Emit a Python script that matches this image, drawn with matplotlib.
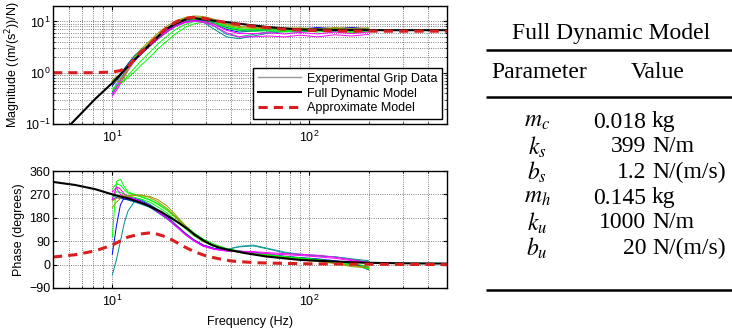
import numpy as np
import matplotlib
matplotlib.use('Agg')
import matplotlib.pyplot as plt
from matplotlib.ticker import LogLocator, NullFormatter

# ---- model curves ----
full_mag_f = [6.17, 8.2, 10, 12.3, 14.7, 16.5, 18.6, 21, 23.5, 25.5, 28, 33, 41, 50, 61, 75, 90, 150, 250, 500]
full_mag = [0.1, 0.31, 0.63, 1.46, 2.85, 4.5, 6.96, 9.1, 10.9, 11.7, 11.2, 10.3, 9.35, 8.5, 7.8, 7.3, 6.96, 6.8, 6.75, 6.75]

approx_mag_f = [5, 8, 10, 11, 12, 13, 14, 15.5, 17, 19, 21, 23, 25, 27, 30, 35, 42, 50, 60, 72, 90, 115, 150, 250, 500]
approx_mag = [1.0, 1.0, 1.03, 1.1, 1.3, 1.85, 2.5, 3.6, 5.2, 7.6, 9.7, 11.2, 11.9, 11.9, 11.3, 10.0, 8.9, 8.2, 7.6, 7.1, 6.8, 6.6, 6.5, 6.45, 6.45]

full_ph_f = [5, 6.5, 8.2, 10, 12.1, 14.7, 17.7, 21.3, 24, 26.3, 29, 31.9, 35, 38.8, 47.3, 60.7, 90, 133, 195, 300, 500]
full_ph = [318, 306, 290, 270, 254, 232, 203, 165, 138, 114, 93, 76, 65, 57, 44, 31, 18, 12, 7, 5, 4]

approx_ph_f = [5, 6.5, 8.2, 10, 12, 14, 15.9, 18, 20, 23, 26, 30, 35, 40, 47, 55, 70, 100, 150, 250, 500]
approx_ph = [29, 38, 53, 75, 106, 118, 123, 111, 96, 70, 50, 33, 22, 14, 10, 7, 5, 3, 2, 1, 0]

phase_ticks = [-90, 0, 90, 180, 270, 360]
phase_ticklabels = ['\u221290', '0', '90', '180', '270', '360']

exp_f = [10, 10.5, 11, 11.5, 12, 13, 14, 15.5, 17, 19, 21, 23.5, 26, 29, 33, 38, 44, 52, 62, 75, 90, 110, 135, 165, 200]

exp_colors = ['#008b8b', '#1a9a9a', '#0000ff', '#0000ff', '#00ff00', '#00ff00', '#00ff00',
              '#ff00ff', '#ff00ff', '#999900', '#999900']

exp_mag = [
    [0.38, 0.5, 0.75, 1.0, 1.35, 2.0, 2.5, 3.4, 4.6, 6.3, 8.3, 10.0, 10.6, 9.6, 7.0, 5.0, 4.6, 5.2, 5.9, 6.3, 6.2, 6.6, 6.4, 6.7, 6.5],
    [0.42, 0.6, 0.85, 1.15, 1.5, 2.2, 2.8, 3.6, 4.9, 6.8, 8.8, 10.4, 10.9, 10.2, 8.0, 5.6, 5.0, 5.6, 6.3, 6.6, 6.5, 6.9, 6.6, 7.0, 6.8],
    [0.55, 0.7, 0.9, 1.1, 1.35, 1.9, 2.4, 3.3, 4.5, 6.4, 8.2, 9.8, 10.5, 10.3, 9.0, 7.0, 6.2, 6.5, 6.8, 7.1, 7.0, 7.4, 7.1, 7.5, 7.2],
    [0.6, 0.75, 0.95, 1.2, 1.45, 2.1, 2.7, 3.7, 5.0, 6.9, 8.7, 10.3, 10.8, 10.5, 9.4, 7.6, 6.7, 6.8, 7.0, 7.3, 7.1, 7.6, 7.2, 7.6, 7.0],
    [0.5, 0.55, 0.62, 0.7, 0.8, 1.05, 1.4, 2.0, 2.9, 4.2, 5.8, 7.7, 9.0, 9.6, 9.2, 8.0, 7.0, 6.8, 6.9, 6.7, 6.9, 6.5, 7.0, 6.3, 6.9],
    [0.45, 0.52, 0.6, 0.72, 0.88, 1.25, 1.7, 2.5, 3.6, 5.2, 7.0, 8.8, 9.9, 10.0, 9.1, 7.4, 6.6, 6.4, 6.6, 6.3, 6.7, 6.2, 6.8, 6.0, 6.6],
    [0.65, 0.8, 0.95, 1.15, 1.4, 2.0, 2.6, 3.5, 4.8, 6.6, 8.5, 10.2, 10.9, 10.7, 9.8, 8.2, 7.2, 7.0, 7.2, 6.9, 7.3, 6.8, 7.3, 6.6, 7.1],
    [0.35, 0.45, 0.62, 0.85, 1.1, 1.7, 2.3, 3.3, 4.6, 6.3, 8.0, 9.5, 10.0, 9.6, 8.2, 6.0, 5.0, 5.0, 5.2, 5.0, 5.4, 5.0, 5.5, 5.2, 5.6],
    [0.4, 0.52, 0.7, 0.95, 1.2, 1.85, 2.5, 3.5, 4.9, 6.7, 8.5, 10.0, 10.4, 10.0, 8.8, 6.7, 5.8, 5.8, 6.0, 5.7, 6.1, 5.7, 6.2, 5.8, 6.2],
    [0.7, 0.85, 0.75, 0.9, 1.3, 2.1, 2.9, 4.2, 5.9, 8.2, 10.3, 12.0, 12.8, 12.5, 11.0, 9.0, 8.0, 7.6, 7.6, 7.4, 7.5, 7.2, 7.6, 7.3, 7.5],
    [0.6, 0.7, 0.65, 0.8, 1.1, 1.8, 2.6, 3.9, 5.5, 7.6, 9.8, 11.5, 12.3, 12.0, 10.5, 8.6, 7.6, 7.3, 7.3, 7.0, 7.2, 6.9, 7.3, 7.0, 7.2],
]

exp_ph = [
    [-40, 20, 90, 160, 205, 245, 250, 232, 212, 185, 155, 120, 95, 75, 62, 58, 68, 72, 60, 45, 38, 33, 30, 22, 15],
    [260, 265, 258, 252, 248, 240, 232, 220, 200, 175, 148, 115, 92, 72, 60, 58, 70, 75, 62, 48, 40, 35, 30, 20, 10],
    [40, 150, 230, 258, 262, 255, 245, 228, 208, 180, 150, 118, 93, 72, 60, 53, 50, 48, 40, 32, 27, 22, 15, 5, -20],
    [250, 258, 255, 252, 250, 244, 236, 222, 203, 178, 150, 120, 95, 75, 62, 55, 52, 46, 38, 30, 26, 20, 12, 2, -10],
    [105, 320, 328, 300, 280, 270, 262, 250, 235, 212, 185, 150, 122, 98, 78, 62, 52, 44, 38, 30, 24, 18, 10, 0, -18],
    [290, 312, 305, 288, 275, 268, 260, 248, 232, 208, 180, 145, 115, 92, 72, 58, 50, 44, 36, 28, 22, 16, 8, -2, -15],
    [265, 280, 278, 270, 264, 258, 252, 240, 222, 198, 170, 138, 110, 88, 70, 57, 50, 45, 38, 31, 26, 20, 12, 5, -8],
    [250, 300, 290, 272, 262, 252, 242, 226, 205, 178, 148, 115, 90, 70, 58, 52, 52, 50, 46, 42, 40, 36, 28, 18, 8],
    [280, 295, 270, 262, 258, 250, 240, 224, 204, 178, 150, 118, 93, 73, 60, 53, 50, 46, 42, 38, 35, 30, 24, 15, 5],
    [220, 240, 255, 262, 265, 268, 265, 262, 250, 225, 190, 150, 118, 92, 72, 58, 48, 40, 32, 24, 18, 12, 4, -8, -12],
    [245, 255, 262, 265, 262, 266, 268, 258, 242, 215, 182, 145, 112, 88, 70, 56, 47, 40, 33, 26, 20, 14, 6, -4, -10],
]

# ---- table contents ----
table_title = 'Full Dynamic Model'
table_header = ['Parameter', 'Value']
param_names = ['$m_c$', '$k_s$', '$b_s$', '$m_h$', '$k_u$', '$b_u$']
param_values = ['0.018', '399', '1.2', '0.145', '1000', '20']
param_units = ['kg', 'N/m', 'N/(m/s)', 'kg', 'N/m', 'N/(m/s)']


def main():
    plt.rcParams.update({
        'font.family': ['Liberation Sans', 'DejaVu Sans'],
        'font.size': 9,
        'axes.linewidth': 1.0,
        'xtick.direction': 'in',
        'ytick.direction': 'in',
        'xtick.top': True,
        'ytick.right': True,
        'xtick.major.size': 3,
        'ytick.major.size': 3,
        'xtick.minor.size': 1.6,
        'ytick.minor.size': 1.6,
        'xtick.major.pad': 4,
        'ytick.major.pad': 2,
    })

    W, H = 732, 331
    fig = plt.figure(figsize=(W / 100, H / 100), dpi=100)

    def px_axes(x0, y0, x1, y1):
        return fig.add_axes([x0 / W, 1 - y1 / H, (x1 - x0) / W, (y1 - y0) / H])

    ax1 = px_axes(53, 6, 447, 124)
    ax2 = px_axes(53, 171, 447, 288)

    grid_kw = dict(color='#555555', linestyle=':', linewidth=0.6)
    red = '#d81e1e'

    # magnitude
    for vals, c in zip(exp_mag, exp_colors):
        ax1.plot(exp_f, vals, color=c, linewidth=0.7)
    ax1.plot([], [], color='#999999', linewidth=1.0, label='Experimental Grip Data')
    ax1.plot(full_mag_f, full_mag, color='black', linewidth=1.5, label='Full Dynamic Model')
    ax1.plot(approx_mag_f, approx_mag, color=red, linewidth=2.2, dashes=(3.0, 2.0),
             label='Approximate Model')
    ax1.set_xscale('log')
    ax1.set_yscale('log')
    ax1.set_xlim(5, 500)
    ax1.set_ylim(0.1, 20)
    ax1.yaxis.set_major_locator(LogLocator(base=10, numticks=10))
    ax1.yaxis.set_minor_locator(LogLocator(base=10, subs=np.arange(2, 10), numticks=10))
    ax1.yaxis.set_minor_formatter(NullFormatter())
    ax1.xaxis.set_minor_formatter(NullFormatter())
    ax1.grid(True, which='both', **grid_kw)
    ax1.set_ylabel('Magnitude ((m/(s$^2$))/N)', labelpad=1)
    leg = ax1.legend(loc='lower right', bbox_to_anchor=(0.987, 0.045), fontsize=9,
                     frameon=True, fancybox=False, framealpha=1, edgecolor='black',
                     handlelength=3.5, handletextpad=0.45, labelspacing=0.22,
                     borderpad=0.35, borderaxespad=0)
    leg.get_frame().set_linewidth(1.0)

    # phase
    for vals, c in zip(exp_ph, exp_colors):
        ax2.plot(exp_f, vals, color=c, linewidth=0.7)
    ax2.plot(full_ph_f, full_ph, color='black', linewidth=1.5)
    ax2.plot(approx_ph_f, approx_ph, color=red, linewidth=2.2, dashes=(3.0, 2.0))
    ax2.set_xscale('log')
    ax2.set_xlim(5, 500)
    ax2.set_ylim(-90, 360)
    ax2.set_yticks(phase_ticks)
    ax2.set_yticklabels(phase_ticklabels)
    ax2.xaxis.set_minor_formatter(NullFormatter())
    ax2.grid(True, which='major', **grid_kw)
    ax2.grid(True, which='minor', axis='x', **grid_kw)
    ax2.set_ylabel('Phase (degrees)', labelpad=3)
    ax2.set_xlabel('Frequency (Hz)', labelpad=5)

    for ax in (ax1, ax2):
        ax.set_axisbelow(True)

    # table on the right, drawn in pixel coordinates
    tax = fig.add_axes([0, 0, 1, 1])
    tax.set_xlim(0, W)
    tax.set_ylim(H, 0)
    tax.axis('off')
    serif = ['Liberation Serif', 'DejaVu Serif']
    fs = 17
    tax.text(611, 33, table_title, ha='center', va='center', family=serif, fontsize=fs)
    tax.text(539, 73, table_header[0], ha='center', va='center', family=serif, fontsize=fs)
    tax.text(658, 73, table_header[1], ha='center', va='center', family=serif, fontsize=fs)
    for yline in (49.5, 96.5, 289.5):
        tax.plot([486, 732], [yline, yline], color='black', linewidth=1.8, solid_capstyle='butt')
    row_y = [122, 147, 172, 198, 223, 248]
    for y, name, val, unit in zip(row_y, param_names, param_values, param_units):
        tax.text(537, y, name, ha='center', va='center', family=serif, fontsize=fs,
                 math_fontfamily='stix')
        tax.text(646, y, val, ha='right', va='center', family=serif, fontsize=fs)
        tax.text(652, y, unit, ha='left', va='center', family=serif, fontsize=fs)

    fig.savefig('out.png', dpi=100)


if __name__ == '__main__':
    main()
